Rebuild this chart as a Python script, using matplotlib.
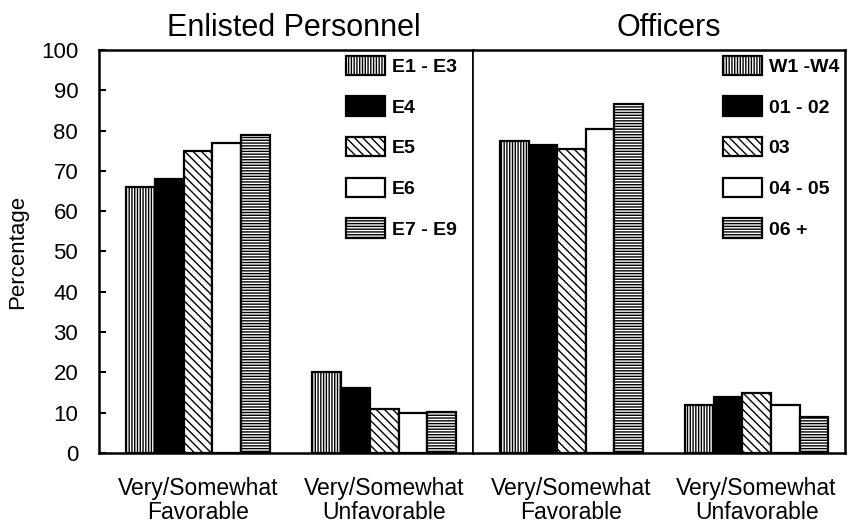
import numpy as np
import matplotlib
matplotlib.use("Agg")
import matplotlib.pyplot as plt

plt.rcParams['font.family'] = ['Liberation Sans', 'DejaVu Sans']
plt.rcParams['hatch.linewidth'] = 1.0

categories = ["Very/Somewhat\nFavorable", "Very/Somewhat\nUnfavorable"]

enlisted_labels = ["E1 - E3", "E4", "E5", "E6", "E7 - E9"]
enlisted_vals = [[66, 20], [68, 16.2], [75, 11], [77, 10], [79, 10.2]]

officer_labels = ["W1 -W4", "01 - 02", "03", "04 - 05", "06 +"]
officer_vals = [[77.5, 11.8], [76.5, 13.8], [75.5, 14.8], [80.5, 12], [86.5, 9]]

# (facecolor, hatch) per series position
styles = [("white", "||||||"), ("black", ""), ("white", "\\\\\\\\"), ("white", ""), ("white", "------")]

fig = plt.figure(figsize=(8.48, 5.22), dpi=100)
ax1 = fig.add_axes([0.1167, 0.1322, 0.4410, 0.7720])
ax2 = fig.add_axes([0.5577, 0.1322, 0.4387, 0.7720], sharey=ax1)

centers = np.array([1.06, 3.05])
w = 0.308

def draw(ax, labels, vals, title, tx, lx):
    n = len(labels)
    for i, (lab, v) in enumerate(zip(labels, vals)):
        fc, h = styles[i]
        ax.bar(centers + (i - (n - 1) / 2) * w, v, w, color=fc, edgecolor="black",
               hatch=h, linewidth=1.6, label=lab)
    ax.set_xlim(0, 4)
    ax.set_xticks(centers)
    ax.set_xticklabels(categories, fontsize=16.5, linespacing=1.05)
    ax.tick_params(axis='x', length=0, pad=17)
    ax.set_title(title, fontsize=22, pad=10, x=tx)
    for s in ax.spines.values():
        s.set_linewidth(1.8)
    ax.legend(loc="upper right", bbox_to_anchor=(lx, 1), frameon=False, handlelength=2.0,
              handleheight=1.15, labelspacing=1.05, handletextpad=0.35,
              borderaxespad=0.1, borderpad=0.2, prop={'weight': 'bold', 'size': 14})

draw(ax1, enlisted_labels, enlisted_vals, "Enlisted Personnel", 0.52, 0.973)
draw(ax2, officer_labels, officer_vals, "Officers", 0.527, 1.0)

ax1.set_ylim(0, 100)
ax1.set_yticks(np.arange(0, 101, 10))
ax1.tick_params(axis='y', direction='in', length=5, width=1.5, labelsize=16, pad=15)
ax1.set_ylabel("Percentage", fontsize=16, labelpad=9)
ax2.tick_params(axis='y', left=False, labelleft=False)
ax1.spines['right'].set_linewidth(1.2)
ax2.spines['left'].set_linewidth(1.2)

fig.savefig("out.png", dpi=100)
